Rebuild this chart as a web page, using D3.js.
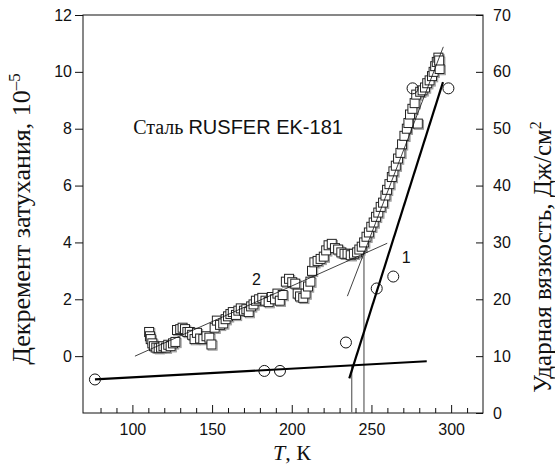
<!DOCTYPE html>
<html>
<head>
<meta charset="utf-8">
<script src="https://cdn.jsdelivr.net/npm/d3@7"></script>
<style>
  body { margin: 0; background: #fff; }
  .tick text { font-family: "Liberation Sans", Arial, sans-serif; font-size: 16px; fill: #111; }
  .tick line { stroke: #111; }
  .serif { font-family: "Liberation Serif", "Times New Roman", serif; fill: #111; }
  .sans { font-family: "Liberation Sans", Arial, sans-serif; fill: #111; }
</style>
</head>
<body>
<svg id="chart" width="555" height="473"></svg>
<script>
// damping decrement, 10^-5 (left axis) vs temperature, K
const decrement = [
  [110.5, 0.85], [111, 0.7], [111.5, 0.6], [112.5, 0.45], [113.5, 0.35], [115, 0.3],
  [116.5, 0.28], [118, 0.3], [119.5, 0.35], [121, 0.3], [122.5, 0.4], [124, 0.35],
  [125.5, 0.45], [127, 0.5], [128, 0.92], [130, 0.95], [131.5, 1.0], [133, 0.95],
  [134.5, 0.85], [136, 0.85], [137.5, 0.75], [139, 0.6], [140.5, 0.82], [142.5, 0.62],
  [144.5, 0.6], [146.5, 0.7], [148.3, 0.65], [149.6, 0.41], [151.6, 1.0], [153, 1.25],
  [155, 1.1], [157, 1.15], [158.5, 1.3], [160, 1.4], [161.5, 1.48], [163, 1.55],
  [165, 1.45], [166.5, 1.6], [168, 1.68], [170, 1.6], [171.5, 1.65], [173, 1.55],
  [174.5, 1.75], [176, 1.82], [177.5, 1.95], [179.5, 2.0], [181.5, 2.05], [183.5, 1.95],
  [185.5, 1.9], [187.5, 2.08], [189.5, 2.0], [191, 2.2], [192.5, 1.95], [194.3, 2.15],
  [196.3, 2.62], [198.3, 2.72], [200.3, 2.6], [202.2, 2.55], [203.7, 2.2], [205.2, 2.1],
  [207.2, 2.05], [208.7, 2.2], [210.2, 2.45], [211.7, 2.62], [212.7, 3.0], [214.2, 3.3],
  [216.2, 3.35], [218.1, 3.42], [220.1, 3.5], [221.6, 3.72], [223.1, 3.9], [225.1, 3.95],
  [227.1, 3.8], [229.1, 3.75], [231.1, 3.65], [233.1, 3.6], [235, 3.6], [237, 3.55],
  [239, 3.6], [241, 3.65], [242.4, 3.75], [243.9, 3.85], [245.4, 4.0], [246.9, 4.2],
  [248.4, 4.35], [249.9, 4.55], [251.4, 4.7], [252.9, 4.9], [254.3, 5.05], [255.8, 5.25],
  [257.3, 5.4], [258.8, 5.65], [259.8, 5.85], [261.3, 6.05], [262.8, 6.3], [263.8, 6.5],
  [265.3, 6.7], [266.7, 6.95], [268.2, 7.15], [269.2, 7.45], [270.7, 7.75], [272.2, 8.0],
  [273.2, 8.2], [274.2, 8.5], [275.7, 8.7], [277.1, 8.9], [278.1, 9.2], [279.1, 8.18],
  [280.6, 9.3], [282.1, 9.35], [283.6, 9.45], [285, 9.6], [286.5, 9.7], [288, 9.85],
  [289, 10.0], [290, 10.2], [291, 10.35], [292, 10.5], [292.8, 10.1], [292.5, 10.4]
];

// impact toughness, J/cm^2 (right axis)
const toughness = [
  [76.5, 5.9], [182.8, 7.4], [192.6, 7.4], [234.0, 12.4],
  [253.3, 21.9], [263.7, 24.0], [275.8, 57.1], [298.3, 57.1]
];

// fitted lines, [T, value]
const fitLow = [[101.6, 0.0], [259.9, 3.97]];          // curve 2, left axis
const fitSteep = [[234.9, 2.11], [295.1, 10.88]];      // curve 2, left axis
const brittleLine = [[76.5, 5.9], [284.7, 9.1]];       // curve 1, right axis
const ductileLine = [[236.1, 6.1], [294.9, 58.2]];     // curve 1, right axis

// transition temperature markers
const markers = [
  { t: 237.6, value: 8.38, axis: "right" },
  { t: 245.3, value: 3.65, axis: "left" }
];

const xTicks = [100, 150, 200, 250, 300];
const xMinorTicks = [80, 90, 110, 120, 130, 140, 160, 170, 180, 190, 210, 220, 230, 240, 260, 270, 280, 290, 310];
const leftTicks = [0, 2, 4, 6, 8, 10, 12];
const rightTicks = [0, 10, 20, 30, 40, 50, 60, 70];

const margin = { top: 15, right: 72, bottom: 60, left: 83 };
const width = 555, height = 473;
const innerW = width - margin.left - margin.right;
const innerH = height - margin.top - margin.bottom;

const svg = d3.select("#chart");
const g = svg.append("g").attr("transform", `translate(${margin.left},${margin.top})`);

const x = d3.scaleLinear().domain([69, 320]).range([0, innerW]);
const yL = d3.scaleLinear().domain([-2, 12]).range([innerH, 0]);
const yR = d3.scaleLinear().domain([0, 70]).range([innerH, 0]);

// axes
g.append("g")
  .attr("transform", `translate(0,${innerH})`)
  .call(d3.axisBottom(x).tickValues(xMinorTicks).tickSize(-5).tickFormat(""))
  .call(a => a.select(".domain").remove());
g.append("g")
  .attr("transform", `translate(0,${innerH})`)
  .call(d3.axisBottom(x).tickValues(xTicks).tickSize(-8).tickPadding(11))
  .call(a => a.select(".domain").remove());
g.append("g")
  .call(d3.axisLeft(yL).tickValues(leftTicks).tickSize(8).tickPadding(3))
  .call(a => a.select(".domain").remove());
g.append("g")
  .attr("transform", `translate(${innerW},0)`)
  .call(d3.axisRight(yR).tickValues(rightTicks).tickSize(-7).tickPadding(10))
  .call(a => a.select(".domain").remove());

g.append("rect")
  .attr("width", innerW).attr("height", innerH)
  .attr("fill", "none").attr("stroke", "#111").attr("stroke-width", 1);

// vertical markers
g.selectAll(".marker")
  .data(markers)
  .enter().append("line")
  .attr("class", "marker")
  .attr("x1", d => x(d.t)).attr("x2", d => x(d.t))
  .attr("y1", innerH)
  .attr("y2", d => d.axis === "left" ? yL(d.value) : yR(d.value))
  .attr("stroke", "#777").attr("stroke-width", 1.4);

// squares (curve 2)
const sq = 9;
g.selectAll(".sq-shadow")
  .data(decrement)
  .enter().append("rect")
  .attr("x", d => x(d[0]) - sq / 2 + 1.2)
  .attr("y", d => yL(d[1]) - sq / 2 + 1.2)
  .attr("width", sq).attr("height", sq)
  .attr("fill", "none").attr("stroke", "#999").attr("stroke-width", 1);
g.selectAll(".sq")
  .data(decrement)
  .enter().append("rect")
  .attr("x", d => x(d[0]) - sq / 2)
  .attr("y", d => yL(d[1]) - sq / 2)
  .attr("width", sq).attr("height", sq)
  .attr("fill", "#fff").attr("stroke", "#222").attr("stroke-width", 1);

const lineL = d3.line().x(d => x(d[0])).y(d => yL(d[1]));
const lineR = d3.line().x(d => x(d[0])).y(d => yR(d[1]));

// thin fit lines for curve 2
[fitLow, fitSteep].forEach(p => {
  g.append("path").attr("d", lineL(p))
    .attr("fill", "none").attr("stroke", "#111").attr("stroke-width", 0.8);
});

// thick lines for curve 1
[brittleLine, ductileLine].forEach(p => {
  g.append("path").attr("d", lineR(p))
    .attr("fill", "none").attr("stroke", "#000").attr("stroke-width", 2.2);
});

// circles (curve 1)
g.selectAll(".pt")
  .data(toughness)
  .enter().append("circle")
  .attr("cx", d => x(d[0])).attr("cy", d => yR(d[1]))
  .attr("r", 5.5)
  .attr("fill", "none").attr("stroke", "#111").attr("stroke-width", 1);

// annotations
const ann = g.append("text").attr("x", x(100.5)).attr("y", yL(7.8)).attr("font-size", 20);
ann.append("tspan").attr("class", "serif").text("Сталь ");
ann.append("tspan").attr("class", "sans").text("RUSFER EK-181");

g.append("text").attr("class", "sans").attr("font-size", 16)
  .attr("x", x(175)).attr("y", yL(2.5)).text("2");
g.append("text").attr("class", "sans").attr("font-size", 16)
  .attr("x", x(269)).attr("y", yR(26.3)).text("1");

// axis titles
const leftTitle = svg.append("text").attr("class", "serif")
  .attr("font-size", 26)
  .attr("text-anchor", "middle")
  .attr("transform", "translate(30,219) rotate(-90)");
leftTitle.append("tspan").text("Декремент затухания, 10");
leftTitle.append("tspan").attr("font-size", 17).attr("dy", -10).text("–5");

const rightTitle = svg.append("text").attr("class", "serif")
  .attr("font-size", 25)
  .attr("text-anchor", "middle")
  .attr("transform", "translate(551,257) rotate(-90)");
rightTitle.append("tspan").text("Ударная вязкость, Дж/см");
rightTitle.append("tspan").attr("font-size", 16).attr("dy", -10).text("2");

const xTitle = svg.append("text").attr("class", "serif")
  .attr("font-size", 22)
  .attr("text-anchor", "middle")
  .attr("x", 292).attr("y", 460);
xTitle.append("tspan").attr("font-style", "italic").text("T");
xTitle.append("tspan").text(", К");
</script>
</body>
</html>
